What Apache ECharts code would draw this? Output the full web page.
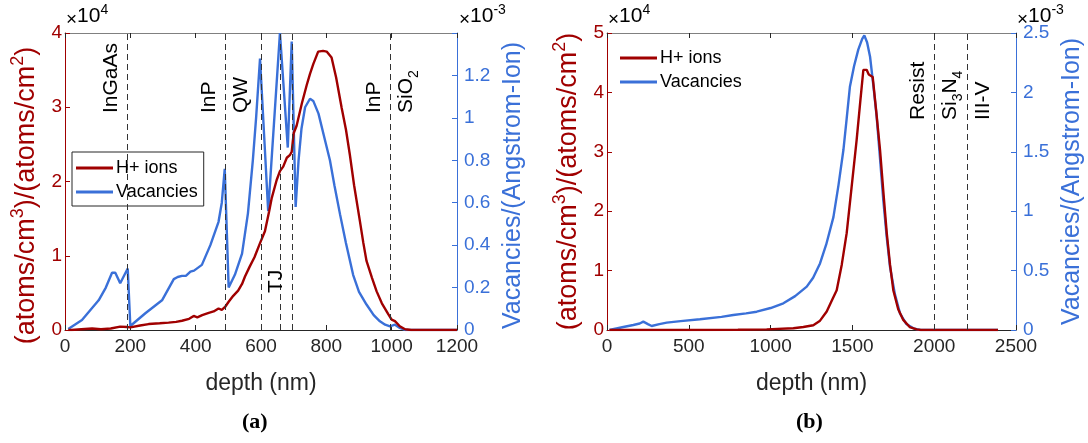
<!DOCTYPE html>
<html>
<head>
<meta charset="utf-8">
<script src="https://cdn.jsdelivr.net/npm/echarts@6/dist/echarts.min.js"></script>
<style>
html, body { margin: 0; padding: 0; background: #fff; }
#chart { width: 1088px; height: 443px; }
</style>
</head>
<body>
<div id="chart"></div>
<script>
// (a) depth in nm; H+ ions in 1e4 (atoms/cm3)/(atoms/cm2); vacancies in 1e-3 /(Angstrom-Ion)
const ionDepthA = [10, 20, 50, 83, 110, 140, 169, 190, 200, 230, 256, 290, 317, 340, 358, 380, 394, 405, 420, 440,
  455, 470, 480, 490, 501, 515, 530, 542, 551, 565, 580, 597, 612, 625, 633, 648, 658, 668, 679, 689,
  694, 700, 709, 725, 740, 750, 760, 775, 790, 801, 816, 830, 847, 860, 872, 885, 903, 913, 923, 940,
  954, 970, 990, 1000, 1010, 1025, 1041, 1060, 1200];
const ionA = [0, 0, 0.01, 0.02, 0.01, 0.02, 0.045, 0.04, 0.035, 0.06, 0.08, 0.09, 0.1, 0.11, 0.125, 0.15, 0.19, 0.17, 0.2, 0.23,
  0.25, 0.29, 0.27, 0.31, 0.38, 0.46, 0.53, 0.62, 0.72, 0.85, 0.98, 1.17, 1.33, 1.6, 1.78, 2.02, 2.14, 2.2, 2.32, 2.36,
  2.4, 2.65, 2.75, 3.05, 3.3, 3.45, 3.58, 3.75, 3.76, 3.75, 3.67, 3.4, 2.99, 2.7, 2.36, 1.95, 1.46, 1.18, 0.93, 0.7,
  0.52, 0.36, 0.21, 0.14, 0.12, 0.05, 0.01, 0, 0];
const vacDepthA = [10, 52, 103, 125, 144, 154, 169, 192, 200, 246, 297, 333, 345, 358, 370, 384, 395, 419, 445, 470,
  480, 489, 501, 520, 542, 560, 575, 585, 597, 622, 658, 682, 694, 706, 715, 724, 735, 750, 760, 776,
  795, 811, 825, 842, 860, 882, 900, 923, 945, 964, 980, 995, 1010, 1025, 1041, 1200];
const vacA = [0.005, 0.047, 0.14, 0.2, 0.27, 0.27, 0.22, 0.29, 0.019, 0.079, 0.14, 0.24, 0.25, 0.255, 0.255, 0.275, 0.28, 0.307, 0.4, 0.51,
  0.6, 0.76, 0.2, 0.26, 0.36, 0.55, 0.8, 1.0, 1.28, 0.56, 1.4, 0.86, 1.36, 0.58, 0.8, 0.95, 1.05, 1.09, 1.08, 1.02,
  0.9, 0.8, 0.68, 0.545, 0.41, 0.26, 0.18, 0.12, 0.07, 0.041, 0.025, 0.017, 0.025, 0.01, 0, 0];

// (b)
const ionDepthB = [15, 500, 800, 976, 1139, 1200, 1261, 1300, 1343, 1375, 1404, 1435, 1465, 1495, 1526, 1550, 1567, 1587, 1600, 1624,
  1645, 1669, 1690, 1710, 1730, 1750, 1780, 1811, 1850, 1893, 1920, 2390];
const ionB = [0, 0, 0.005, 0.01, 0.03, 0.05, 0.08, 0.15, 0.31, 0.5, 0.67, 1.1, 1.63, 2.4, 3.2, 3.9, 4.38, 4.38, 4.3, 4.26,
  3.7, 3.03, 2.3, 1.63, 1.1, 0.67, 0.35, 0.17, 0.05, 0.01, 0, 0];
const vacDepthB = [15, 100, 161, 200, 222, 250, 273, 320, 365, 450, 568, 700, 772, 850, 915, 1000, 1078, 1150, 1221, 1260,
  1302, 1340, 1384, 1415, 1445, 1465, 1485, 1510, 1536, 1560, 1573, 1590, 1608, 1628, 1648, 1669, 1689, 1710, 1730, 1760,
  1791, 1830, 1873, 1914, 2390];
const vacB = [0, 0.025, 0.042, 0.055, 0.07, 0.05, 0.034, 0.05, 0.062, 0.075, 0.09, 0.11, 0.126, 0.14, 0.154, 0.185, 0.225, 0.285, 0.365, 0.44,
  0.56, 0.72, 0.95, 1.22, 1.515, 1.78, 2.05, 2.22, 2.36, 2.45, 2.48, 2.42, 2.3, 2.06, 1.8, 1.44, 1.09, 0.78, 0.53, 0.3,
  0.14, 0.05, 0.014, 0, 0];

// layer boundaries (dashed lines) and their names
const layersA = [190, 490, 600, 660, 695, 995];
const layersB = [2000, 2200];
const layerNamesA = ['InGaAs', 'InP', 'QW', 'TJ', 'InP', 'SiO2'];
const layerNamesB = ['Resist', 'Si3N4', 'III-V'];

// axis ticks
const xTicksA = [0, 200, 400, 600, 800, 1000, 1200];
const xTicksB = [0, 500, 1000, 1500, 2000, 2500];
const ionTicksA = [0, 1, 2, 3, 4];
const ionTicksB = [0, 1, 2, 3, 4, 5];
const vacTicksA = [0, 0.2, 0.4, 0.6, 0.8, 1, 1.2, 1.4];
const vacTicksB = [0, 0.5, 1, 1.5, 2, 2.5];

const seriesNames = ['H+ ions', 'Vacancies'];

const RED = '#A00000';
const BLUE = '#3A70D8';
const INK = '#262626';
const FONT = '"Liberation Sans", Arial, sans-serif';

const chart = echarts.init(document.getElementById('chart'));

function pairs(xs, ys) {
  return xs.map((x, i) => [x, ys[i]]);
}

function fmt(v) {
  return String(+v.toFixed(2));
}

const richText = {
  n: { fontSize: 21, lineHeight: 30, fontFamily: FONT, color: '#000' },
  sub: { fontSize: 14, lineHeight: 14, verticalAlign: 'bottom', fontFamily: FONT, color: '#000' }
};

function labelText(t) {
  if (t === 'SiO2') return '{n|SiO}{sub|2}';
  if (t === 'Si3N4') return '{n|Si}{sub|3}{n|N}{sub|4}';
  return '{n|' + t + '}';
}

// placement: which boundary, on which side, and bottom offset (px from grid top)
function layerLabels(xIdx, yIdx, names, layers, place) {
  return {
    type: 'custom',
    xAxisIndex: xIdx,
    yAxisIndex: yIdx,
    silent: true,
    z: 5,
    data: place.map(p => [layers[p[0]], 0]),
    renderItem: function (params, api) {
      const p = place[params.dataIndex];
      const pt = api.coord([api.value(0), api.value(1)]);
      const left = p[1] === 'left';
      return {
        type: 'text',
        x: pt[0] + (left ? -1 : 1),
        y: params.coordSys.y + p[2],
        rotation: Math.PI / 2,
        style: {
          text: labelText(names[params.dataIndex]),
          rich: richText,
          align: 'left',
          verticalAlign: left ? 'bottom' : 'top'
        }
      };
    }
  };
}

function xAxes(grid, ticks) {
  const base = {
    gridIndex: grid,
    type: 'value',
    min: ticks[0],
    max: ticks[ticks.length - 1],
    interval: ticks[1] - ticks[0],
    splitLine: { show: false },
    axisLine: { show: true, onZero: false, lineStyle: { color: INK, width: 1 } },
    axisTick: { show: true, inside: true, length: 5, lineStyle: { color: INK } }
  };
  return [
    Object.assign({}, base, {
      position: 'bottom',
      name: 'depth (nm)',
      nameLocation: 'middle',
      nameGap: 42,
      nameTextStyle: { color: INK, fontSize: 23, fontFamily: FONT },
      axisLabel: { color: INK, fontSize: 19, fontFamily: FONT, margin: 7, formatter: v => String(v) }
    }),
    Object.assign({}, base, {
      position: 'top',
      axisLine: { show: true, onZero: false, lineStyle: { color: '#808080', width: 1 } },
      axisLabel: { show: false }
    })
  ];
}

function yAxis(grid, ticks, side, color, name, gap, hideTop, shift) {
  return {
    gridIndex: grid,
    type: 'value',
    position: side,
    min: ticks[0],
    max: ticks[ticks.length - 1],
    interval: ticks[1] - ticks[0],
    splitLine: { show: false },
    axisLine: { show: true, onZero: false, lineStyle: { color: color, width: 1 } },
    axisTick: { show: true, inside: true, length: 5, lineStyle: { color: color } },
    axisLabel: {
      color: color, fontSize: 19, fontFamily: FONT, margin: side === 'left' ? 3 : 7,
      formatter: v => (hideTop && v >= ticks[ticks.length - 1] - 1e-9) ? '' : fmt(v)
    },
    name: name,
    nameLocation: 'middle',
    nameGap: gap,
    nameTextStyle: {
      color: color, fontSize: 25, fontFamily: FONT,
      padding: [0, shift, 0, 0],
      rich: {
        n: { color: color, fontSize: 27, lineHeight: 35, fontFamily: FONT },
        sup: { color: color, fontSize: 18, lineHeight: 18, verticalAlign: 'top', fontFamily: FONT }
      }
    }
  };
}

const ionName = '{n|(atoms/cm}{sup|3}{n|)/(atoms/cm}{sup|2}{n|)}';
const vacName = 'Vacancies/(Angstrom-Ion)';

function lineSeries(name, x, y, data, color, z, layers) {
  const s = {
    name: name,
    type: 'line',
    xAxisIndex: x,
    yAxisIndex: y,
    data: data,
    symbol: 'none',
    z: z,
    lineStyle: { color: color, width: 2.4 },
    itemStyle: { color: color }
  };
  if (layers) {
    s.markLine = {
      silent: true,
      symbol: 'none',
      label: { show: false },
      lineStyle: { color: '#333', width: 1, type: [6, 4] },
      data: layers.map(v => ({ xAxis: v }))
    };
  }
  return s;
}

function multiplier(x, y, color, exp) {
  return {
    type: 'text',
    left: x,
    top: y,
    style: {
      text: '{x|×}{n|10}{s|' + exp + '}',
      rich: {
        x: { fontSize: 19, lineHeight: 26, verticalAlign: 'bottom', color: color, fontFamily: FONT },
        n: { fontSize: 21, lineHeight: 26, color: color, fontFamily: FONT },
        s: { fontSize: 14, lineHeight: 14, verticalAlign: 'top', color: color, fontFamily: FONT }
      }
    }
  };
}

function legend(left, top, boxed) {
  return {
    data: seriesNames,
    orient: 'vertical',
    left: left,
    top: top,
    icon: 'rect',
    itemWidth: 37,
    itemHeight: 3,
    itemGap: 6,
    padding: [7, 6, 5, 4],
    backgroundColor: boxed ? '#fff' : 'transparent',
    borderColor: INK,
    borderWidth: boxed ? 1 : 0,
    borderRadius: 0,
    textStyle: { color: '#000', fontSize: 18, fontFamily: FONT, padding: [0, 0, 0, -2] },
    selectedMode: false
  };
}

const option = {
  animation: false,
  backgroundColor: '#fff',
  grid: [
    { left: 65, top: 33, width: 392, height: 297, outerBoundsMode: 'none', containLabel: false },
    { left: 607, top: 33, width: 409, height: 297, outerBoundsMode: 'none', containLabel: false }
  ],
  xAxis: xAxes(0, xTicksA).concat(xAxes(1, xTicksB)),
  yAxis: [
    yAxis(0, ionTicksA, 'left', RED, ionName, 21, false, 28),
    yAxis(0, vacTicksA, 'right', BLUE, vacName, 44, true, 8),
    yAxis(1, ionTicksB, 'left', RED, ionName, 21, false, 0),
    yAxis(1, vacTicksB, 'right', BLUE, vacName, 44, false, 0)
  ],
  legend: [legend(72, 152, true), legend(616, 42, false)],
  series: [
    lineSeries(seriesNames[1], 0, 1, pairs(vacDepthA, vacA), BLUE, 2, null),
    lineSeries(seriesNames[0], 0, 0, pairs(ionDepthA, ionA), RED, 3, layersA),
    lineSeries(seriesNames[1], 2, 3, pairs(vacDepthB, vacB), BLUE, 2, null),
    lineSeries(seriesNames[0], 2, 2, pairs(ionDepthB, ionB), RED, 3, layersB),
    layerLabels(0, 0, layerNamesA, layersA,
      [[0, 'left', 80], [1, 'left', 80], [1, 'right', 80], [4, 'left', 260], [5, 'left', 80], [5, 'right', 80]]),
    layerLabels(2, 2, layerNamesB, layersB,
      [[0, 'left', 87], [0, 'right', 87], [1, 'right', 87]])
  ],
  graphic: [
    multiplier(66, 3, RED, '4'),
    multiplier(459, 3, BLUE, '-3'),
    multiplier(608, 3, RED, '4'),
    multiplier(1017, 3, BLUE, '-3'),
    { type: 'text', left: 242, top: 411, style: { text: '(a)', fontSize: 22, fontWeight: 'bold', fontFamily: '"Liberation Serif", "DejaVu Serif", serif', fill: '#000' } },
    { type: 'text', left: 796, top: 411, style: { text: '(b)', fontSize: 22, fontWeight: 'bold', fontFamily: '"Liberation Serif", "DejaVu Serif", serif', fill: '#000' } }
  ]
};

chart.setOption(option);
window.addEventListener('resize', function () {
  chart.resize();
});
</script>
</body>
</html>
